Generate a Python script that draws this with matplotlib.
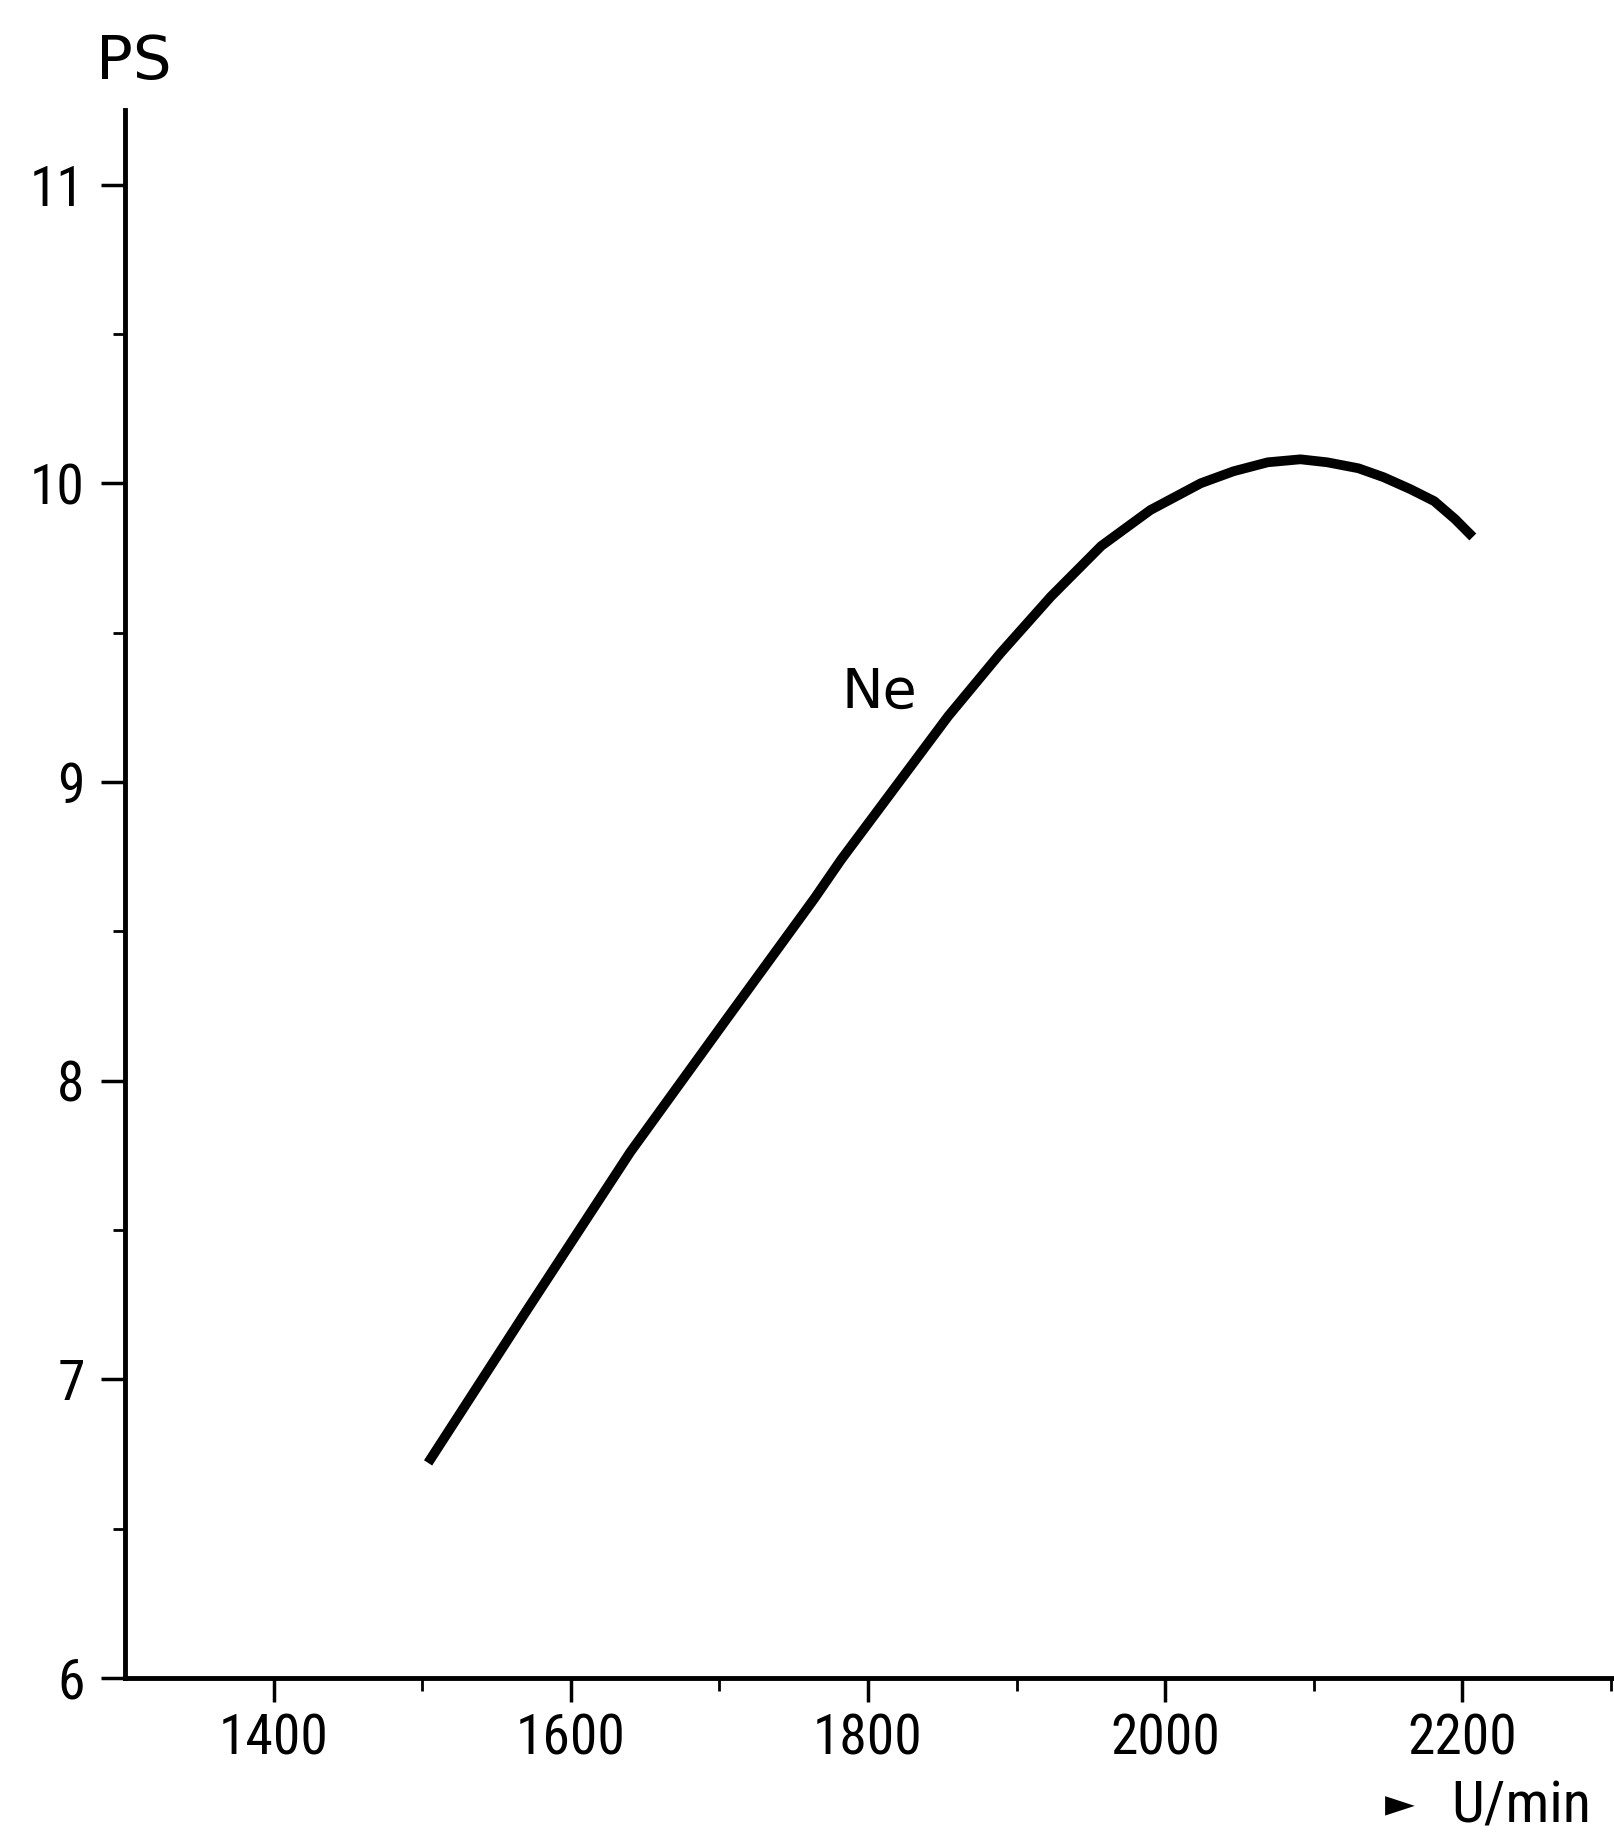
import matplotlib
matplotlib.use("Agg")
import matplotlib.pyplot as plt

# Ne power curve
rpm = [1504, 1569, 1640, 1704, 1764, 1782, 1854, 1889, 1923, 1957, 1990,
       2024, 2046, 2069, 2091, 2109, 2130, 2147, 2165, 2181, 2195, 2207]
ps = [6.72, 7.22, 7.76, 8.20, 8.61, 8.74, 9.22, 9.43, 9.62, 9.79, 9.91,
      10.00, 10.04, 10.07, 10.08, 10.07, 10.05, 10.02, 9.98, 9.94, 9.88, 9.82]

x_major = [1400, 1600, 1800, 2000, 2200]
x_minor = [1500, 1700, 1900, 2100, 2300]
y_major = [6, 7, 8, 9, 10, 11]
y_minor = [6.5, 7.5, 8.5, 9.5, 10.5]

narrow = ["Liberation Sans Narrow", "DejaVu Sans Condensed", "Roboto Condensed",
          "DejaVu Sans"]

fig = plt.figure(figsize=(16.14, 18.34), dpi=100)
ax = fig.add_axes([0.0774, 0.0851, 0.9226, 0.855])

ax.plot(rpm, ps, color="black", lw=7, solid_capstyle="butt",
        solid_joinstyle="round")
ax.text(1808, 9.30, "Ne", fontsize=40, ha="center", va="center",
        family="DejaVu Sans")

ax.set_xlim(1300, 2302)
ax.set_ylim(6, 11.25)

ax.spines["top"].set_visible(False)
ax.spines["right"].set_visible(False)
ax.spines["left"].set_linewidth(3.5)
ax.spines["bottom"].set_linewidth(3.5)

ax.set_xticks(x_major)
ax.set_xticks(x_minor, minor=True)
ax.set_yticks(y_major)
ax.set_yticks(y_minor, minor=True)
ax.tick_params(axis="both", which="major", direction="out", length=17, width=2.5)
ax.tick_params(axis="both", which="minor", direction="out", length=9, width=2)
ax.tick_params(axis="x", which="major", pad=8)
ax.tick_params(axis="y", which="major", pad=12)

for lab in ax.get_xticklabels() + ax.get_yticklabels():
    lab.set_fontsize(40)
    lab.set_family(narrow)

fig.text(0.083, 0.966, "PS", fontsize=44, ha="center", va="center",
         family="DejaVu Sans")
fig.text(0.858, 0.0155, "\u25ba", fontsize=28, ha="left", va="center",
         family="DejaVu Sans")
fig.text(0.899, 0.0147, "U/min", fontsize=42, ha="left", va="center",
         family=narrow)

fig.savefig("out.png", dpi=100, facecolor="white")
